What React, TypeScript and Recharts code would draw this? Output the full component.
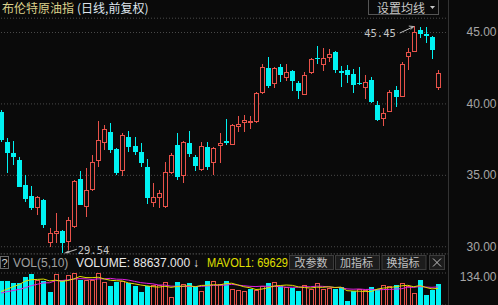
import React from "react";
import { ComposedChart, Bar, Line, XAxis, YAxis, CartesianGrid, ReferenceLine, ReferenceDot } from "recharts";

const dayIndex: string[] = Array.from({ length: 73 }, (_, i) => `D${i + 1}`);

const open = [39.4, 37.36, 36.59, 36.10, 34.34, 33.57, 32.73, 33.29, 30.28, 30.91, 31.12, 30.35, 31.4, 34.77, 32.8, 33.99, 36.03, 37.29, 38.06, 36.87, 35.33, 37.71, 37.08, 36.66, 35.61, 33.08, 33.43, 32.8, 35.19, 37.15, 34.98, 37.29, 36.31, 35.4, 37.0, 35.89, 37.08, 37.43, 37.15, 38.41, 38.69, 38.69, 38.76, 40.79, 42.54, 41.42, 42.61, 41.84, 42.33, 41.49, 40.65, 42.19, 43.24, 42.75, 43.24, 43.66, 42.33, 42.4, 42.12, 41.49, 41.14, 41.7, 39.95, 38.97, 39.46, 41.0, 40.51, 43.31, 43.66, 45.14, 44.86, 44.65, 41.14];
const high = [39.6, 37.64, 37.43, 36.3, 35.05, 34.27, 33.55, 33.35, 31.33, 32.38, 31.2, 32.1, 34.7, 35.33, 35.54, 36.45, 38.83, 38.55, 38.69, 36.9, 37.99, 38.13, 37.71, 37.29, 36.17, 34.48, 33.99, 35.96, 36.59, 37.99, 37.43, 38.13, 36.4, 37.36, 37.36, 37.0, 37.99, 38.97, 38.62, 39.18, 39.25, 39.18, 40.8, 42.82, 43.31, 42.61, 42.82, 42.82, 42.4, 41.63, 42.26, 43.24, 44.02, 43.94, 43.87, 43.7, 42.68, 42.75, 42.47, 42.61, 42.05, 41.91, 40.23, 39.74, 41.0, 41.28, 42.9, 43.94, 45.45, 45.35, 45.38, 44.72, 42.4];
const low = [37.3, 35.19, 35.75, 34.15, 33.15, 32.6, 32.24, 31.33, 30.0, 30.28, 29.54, 29.79, 31.3, 32.9, 32.1, 33.9, 35.6, 36.8, 36.59, 35.0, 34.98, 36.66, 36.45, 35.6, 33.0, 32.8, 32.73, 32.73, 35.1, 34.7, 34.48, 36.3, 35.33, 35.33, 35.4, 35.05, 35.89, 37.15, 37.1, 38.06, 38.06, 38.27, 38.69, 40.72, 41.14, 41.14, 41.56, 41.63, 40.93, 40.37, 40.6, 42.1, 42.82, 42.33, 42.96, 42.19, 41.21, 41.49, 40.79, 41.35, 40.37, 40.09, 38.83, 38.48, 39.4, 39.81, 40.5, 42.4, 43.6, 44.58, 44.23, 43.17, 41.0];
const close = [37.5, 36.59, 36.31, 34.2, 33.36, 32.73, 33.5, 31.54, 30.98, 31.12, 30.28, 31.89, 34.63, 32.94, 33.99, 35.96, 37.5, 38.27, 36.8, 35.19, 37.85, 37.0, 36.66, 35.89, 33.43, 33.5, 33.78, 35.26, 36.45, 34.9, 37.36, 36.52, 35.68, 37.08, 35.61, 36.94, 37.29, 37.25, 38.55, 38.62, 38.9, 38.83, 40.79, 42.61, 41.28, 42.54, 42.05, 42.26, 41.63, 40.93, 42.05, 43.17, 43.2, 43.24, 43.52, 42.4, 42.19, 42.05, 41.35, 41.38, 41.56, 40.16, 38.9, 39.39, 40.86, 40.5, 42.82, 43.66, 45.0, 44.86, 44.72, 43.8, 42.19];
// volume in thousands
const volume = [102, 99, 92, 92, 116, 130, 106, 99, 54, 130, 106, 124, 132, 106, 106, 104, 134, 96, 78, 96, 99, 92, 78, 54, 78, 82, 82, 96, 32, 96, 88, 92, 74, 60, 99, 99, 88, 102, 68, 64, 60, 68, 64, 78, 92, 96, 78, 74, 71, 60, 82, 68, 92, 68, 71, 68, 75, 18, 60, 68, 63, 74, 68, 82, 78, 82, 92, 78, 52, 104, 41.508, 62, 88.637];
// volumes of the sessions just before the visible window (for the moving averages)
const priorVolume = [40, 46, 42, 48, 44, 45, 43, 47, 43];

const priceTicks = [30, 35, 40, 45];
const volTicks = [0, 134];

const RED = "#e8524a";
const CYAN = "#00f2f2";
const BG = "#0a0a0a";
const GRID = "#4a4a4a";
const AXIS_TXT = "#a6a6a6";

const allVol = [...priorVolume, ...volume];
const ma = (n: number, i: number) => {
  const end = i + priorVolume.length;
  let s = 0;
  for (let k = end - n + 1; k <= end; k++) s += allVol[k];
  return s / n;
};

const rows = dayIndex.map((day, i) => ({
  day,
  open: open[i],
  high: high[i],
  low: low[i],
  close: close[i],
  range: [low[i], high[i]],
  volume: volume[i],
  up: close[i] >= (i > 0 ? close[i - 1] : open[i]),
  ma5: ma(5, i),
  ma10: ma(10, i),
}));

const maxHigh = Math.max(...high);
const maxIdx = high.indexOf(maxHigh);
const minLow = Math.min(...low);
const minIdx = low.indexOf(minLow);
const lastVol = volume[volume.length - 1];
const lastMa5 = rows[rows.length - 1].ma5;

function Candle(props: any) {
  const { x, y, width, height, payload } = props;
  if (x == null || payload == null) return null;
  const top = Math.min(y, y + height);
  const h = Math.abs(height);
  const { open: o, close: c, high: hi, low: lo } = payload;
  const span = hi - lo || 1;
  const py = (v: number) => top + ((hi - v) / span) * h;
  const col = Math.round(x + width / 2 - 0.5);
  const lx = col + 0.5;
  const bTop = Math.round(py(Math.max(o, c)));
  const bBot = Math.round(py(Math.min(o, c)));
  const wTop = Math.round(py(hi));
  const wBot = Math.round(py(lo));
  if (c >= o) {
    return (
      <g>
        <line x1={lx} x2={lx} y1={wTop} y2={bTop} stroke={RED} strokeWidth={1} />
        <line x1={lx} x2={lx} y1={bBot} y2={wBot} stroke={RED} strokeWidth={1} />
        <rect x={col - 1.5} y={bTop + 0.5} width={4} height={Math.max(bBot - bTop - 1, 0)} fill={BG} stroke={RED} strokeWidth={1} />
      </g>
    );
  }
  return (
    <g>
      <line x1={lx} x2={lx} y1={wTop} y2={wBot} stroke={CYAN} strokeWidth={1} />
      <rect x={col - 2} y={bTop} width={5} height={Math.max(bBot - bTop, 1)} fill={CYAN} />
    </g>
  );
}

function VolBar(props: any) {
  const { x, y, width, height, payload } = props;
  if (x == null || payload == null) return null;
  const top = Math.round(Math.min(y, y + height));
  const bot = Math.round(Math.max(y, y + height));
  const col = Math.round(x + width / 2 - 0.5);
  if (payload.up) {
    return <rect x={col - 1.5} y={top + 0.5} width={4} height={Math.max(bot - top, 1)} fill={BG} stroke={RED} strokeWidth={1} />;
  }
  return <rect x={col - 2} y={top} width={5} height={Math.max(bot - top, 1)} fill={CYAN} />;
}

const PriceTick = (p: any) => (
  <text x={498.5} y={p.y} dy={4} textAnchor="end" fill={AXIS_TXT} fontSize={12} fontFamily="'Liberation Sans', Arial, sans-serif">
    {Number(p.payload.value).toFixed(2)}
  </text>
);

const VolTick = (p: any) => (
  <text x={498.5} y={p.y} dy={p.payload.value === 0 ? 0 : 4} textAnchor="end" fill={AXIS_TXT} fontSize={12} fontFamily="'Liberation Sans', Arial, sans-serif">
    {Number(p.payload.value).toFixed(2)}
  </text>
);

const HighMark = (p: any) => {
  const { cx, cy } = p;
  if (cx == null) return null;
  return (
    <g>
      <line x1={cx - 14} y1={cy + 7} x2={cx} y2={cy + 0.5} stroke="#bdbdbd" strokeWidth={1} />
      <polyline points={`${cx - 5},${cy} ${cx},${cy + 0.5} ${cx - 3},${cy + 3.5}`} fill="none" stroke="#bdbdbd" strokeWidth={1} />
      <text x={cx - 18} y={cy + 11} textAnchor="end" fill="#c4c4c4" fontSize={10.5} fontFamily="'DejaVu Sans Mono', monospace">
        {maxHigh.toFixed(2)}
      </text>
    </g>
  );
};

const LowMark = (p: any) => {
  const { cx, cy } = p;
  if (cx == null) return null;
  return (
    <g>
      <polygon points={`${cx + 2},${cy} ${cx + 8},${cy} ${cx + 7},${cy - 3}`} fill="#9a9a9a" />
      <line x1={cx + 4} y1={cy - 0.5} x2={cx + 15} y2={cy - 4} stroke="#bdbdbd" strokeWidth={1} />
      <text x={cx + 16} y={cy + 0.5} textAnchor="start" fill="#c4c4c4" fontSize={10.5} fontFamily="'DejaVu Sans Mono', monospace">
        {minLow.toFixed(2)}
      </text>
    </g>
  );
};

const CJK = "'Noto Sans CJK SC', 'Noto Sans', sans-serif";
const LAT = "'Liberation Sans', Arial, sans-serif";

export default function App() {
  return (
    <div style={{ position: "fixed", left: 0, top: 0, width: 498, height: 305, background: BG, overflow: "hidden" }}>
      <div style={{ position: "absolute", left: -2.5, top: 0 }}>
        <ComposedChart width={500.5} height={256} data={rows} margin={{ top: 18.2, right: 0, bottom: 2.1, left: 0 }}>
          <CartesianGrid vertical={false} stroke={GRID} strokeDasharray="1 2" />
          <XAxis dataKey="day" hide padding={{ left: 0, right: 7.4 }} />
          <YAxis
            orientation="right"
            width={50}
            domain={[29.5, 46]}
            ticks={priceTicks}
            allowDataOverflow
            axisLine={false}
            tickLine={false}
            tick={PriceTick}
          />
          <ReferenceLine y={29.5} stroke={GRID} strokeDasharray="1 2" />
          <Bar dataKey="range" barSize={5} isAnimationActive={false} shape={(p: any) => <Candle {...p} />} />
          <ReferenceDot x={dayIndex[maxIdx]} y={maxHigh} r={0} shape={HighMark} />
          <ReferenceDot x={dayIndex[minIdx]} y={minLow} r={0} shape={LowMark} />
        </ComposedChart>
      </div>
      <div style={{ position: "absolute", left: -2.5, top: 268 }}>
        <ComposedChart width={500.5} height={37} data={rows} margin={{ top: 5, right: 0, bottom: 0, left: 0 }}>
          <CartesianGrid vertical={false} stroke={GRID} strokeDasharray="1 2" />
          <XAxis dataKey="day" hide padding={{ left: 0, right: 7.4 }} />
          <YAxis
            orientation="right"
            width={50}
            domain={[0, 134]}
            ticks={volTicks}
            allowDataOverflow
            axisLine={false}
            tickLine={false}
            tick={VolTick}
          />
          <Bar dataKey="volume" barSize={5} isAnimationActive={false} shape={(p: any) => <VolBar {...p} />} />
          <Line dataKey="ma10" stroke="#e020e0" strokeWidth={1} dot={false} isAnimationActive={false} />
          <Line dataKey="ma5" stroke="#e0e000" strokeWidth={1} dot={false} isAnimationActive={false} />
        </ComposedChart>
      </div>
      <div style={{ position: "absolute", left: 448, top: 0, width: 1, height: 305, background: "#333333" }} />
      <svg width={498} height={305} style={{ position: "absolute", left: 0, top: 0, pointerEvents: "none" }}>
        <text x={2} y={13} fill="#dcd28c" fontSize={12} fontFamily={CJK}>布伦特原油指</text>
        <text x={77} y={13} fill="#dfe6ee" fontSize={12} fontFamily={CJK}>(日线,前复权)</text>

        <rect x={368.5} y={-0.5} width={70} height={15} fill={BG} stroke="#555555" />
        <text x={377} y={13} fill="#c8c8c8" fontSize={12} fontFamily={CJK}>设置均线</text>
        <polygon points="430,6 435,6 432.5,9" fill="#c8c8c8" />

        <rect x={0.5} y={256.5} width={8} height={12} fill="none" stroke="#6a6a6a" />
        <text x={4.5} y={266.5} textAnchor="middle" fill="#d0d0d0" fontSize={11} fontFamily={LAT}>?</text>
        <text x={13} y={267} fill="#a0a0a0" fontSize={12} fontFamily={LAT}>VOL(5,10)</text>
        <text x={76} y={267} fill="#e8e8e8" fontSize={12} fontFamily={LAT}>{`VOLUME: ${(lastVol * 1000).toFixed(3)}`}</text>
        <text x={193} y={267} fill="#e8e8e8" fontSize={12} fontFamily={LAT}>↓</text>
        <text x={207} y={267} fill="#e0e000" fontSize={12} fontFamily={LAT} textLength={81} lengthAdjust="spacingAndGlyphs">{`MAVOL1: ${(lastMa5 * 1000).toFixed(0)}`}</text>

        <rect x={289.5} y={255.5} width={44} height={14} fill="#1c1c1c" stroke="#3c3c3c" />
        <text x={294.5} y={267} fill="#c0c0c0" fontSize={11} fontFamily={CJK}>改参数</text>
        <rect x={335.5} y={255.5} width={44} height={14} fill="#1c1c1c" stroke="#3c3c3c" />
        <text x={340} y={267} fill="#c0c0c0" fontSize={11} fontFamily={CJK}>加指标</text>
        <rect x={382} y={255.5} width={44} height={14} fill="#1c1c1c" stroke="#3c3c3c" />
        <text x={386.5} y={267} fill="#c0c0c0" fontSize={11} fontFamily={CJK}>换指标</text>
        <rect x={429.5} y={255.5} width={15} height={14} fill="#1c1c1c" stroke="#3c3c3c" />
        <line x1={433} y1={258.5} x2={441} y2={266.5} stroke="#c0c0c0" />
        <line x1={441} y1={258.5} x2={433} y2={266.5} stroke="#c0c0c0" />
      </svg>
    </div>
  );
}
